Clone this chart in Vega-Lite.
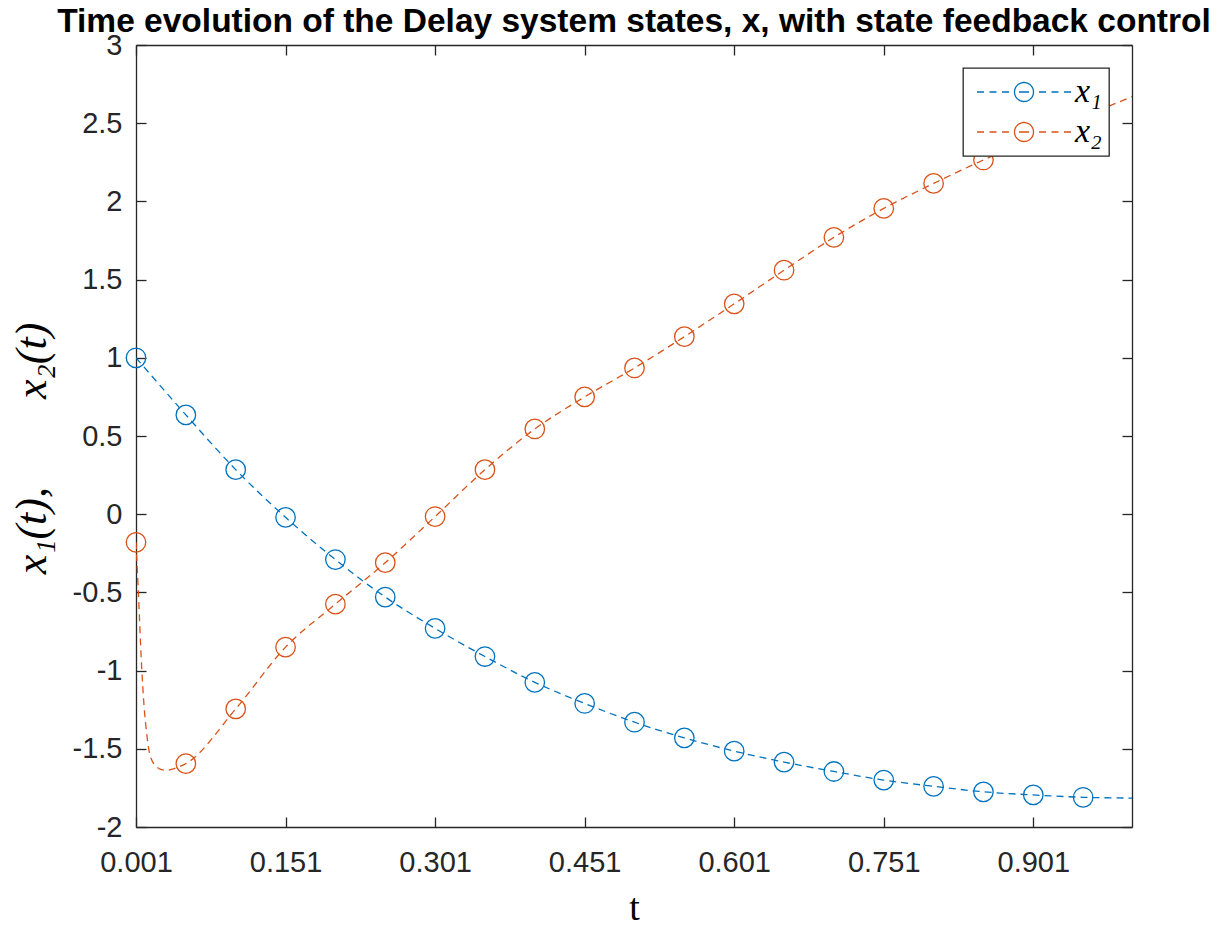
{
  "$schema": "https://vega.github.io/schema/vega-lite/v6.json",
  "autosize": "none",
  "width": 996,
  "height": 782,
  "padding": {"left": 136, "top": 45, "right": 96, "bottom": 99},
  "background": "white",
  "title": {
    "text": "Time evolution of the Delay system states, x, with state feedback control",
    "font": "Liberation Sans",
    "fontWeight": "bold",
    "fontSize": 33.5,
    "color": "#000000",
    "anchor": "middle",
    "frame": "group",
    "baseline": "bottom",
    "offset": 6,
    "dy": 47
  },
  "config": {
    "view": {"stroke": null},
    "legend": {"strokeWidth": 1.3},
    "axis": {
      "labelFont": "Liberation Sans",
      "labelFontSize": 29,
      "labelColor": "#262626",
      "domainColor": "#262626",
      "domainWidth": 1.3,
      "tickColor": "#262626",
      "tickWidth": 1.3,
      "tickSize": -10,
      "grid": false
    }
  },
  "data": {
    "values": [
      {"t": 0.001, "s": "x1", "v": 1.0},
      {"t": 0.051, "s": "x1", "v": 0.635},
      {"t": 0.101, "s": "x1", "v": 0.285},
      {"t": 0.151, "s": "x1", "v": -0.02},
      {"t": 0.201, "s": "x1", "v": -0.29},
      {"t": 0.251, "s": "x1", "v": -0.53},
      {"t": 0.301, "s": "x1", "v": -0.73},
      {"t": 0.351, "s": "x1", "v": -0.91},
      {"t": 0.401, "s": "x1", "v": -1.075},
      {"t": 0.451, "s": "x1", "v": -1.21},
      {"t": 0.501, "s": "x1", "v": -1.33},
      {"t": 0.551, "s": "x1", "v": -1.43},
      {"t": 0.601, "s": "x1", "v": -1.515},
      {"t": 0.651, "s": "x1", "v": -1.585},
      {"t": 0.701, "s": "x1", "v": -1.645},
      {"t": 0.751, "s": "x1", "v": -1.7},
      {"t": 0.801, "s": "x1", "v": -1.74},
      {"t": 0.851, "s": "x1", "v": -1.775},
      {"t": 0.901, "s": "x1", "v": -1.795},
      {"t": 0.951, "s": "x1", "v": -1.81},
      {"t": 1.0, "s": "x1", "v": -1.815},
      {"t": 0.001, "s": "x2", "v": -0.18},
      {"t": 0.0033, "s": "x2", "v": -0.49},
      {"t": 0.0067, "s": "x2", "v": -0.98},
      {"t": 0.009, "s": "x2", "v": -1.22},
      {"t": 0.0117, "s": "x2", "v": -1.4},
      {"t": 0.014, "s": "x2", "v": -1.51},
      {"t": 0.017, "s": "x2", "v": -1.575},
      {"t": 0.021, "s": "x2", "v": -1.61},
      {"t": 0.026, "s": "x2", "v": -1.632},
      {"t": 0.032, "s": "x2", "v": -1.638},
      {"t": 0.04, "s": "x2", "v": -1.625},
      {"t": 0.051, "s": "x2", "v": -1.595},
      {"t": 0.101, "s": "x2", "v": -1.245},
      {"t": 0.151, "s": "x2", "v": -0.85},
      {"t": 0.201, "s": "x2", "v": -0.575},
      {"t": 0.251, "s": "x2", "v": -0.31},
      {"t": 0.301, "s": "x2", "v": -0.015},
      {"t": 0.351, "s": "x2", "v": 0.285},
      {"t": 0.401, "s": "x2", "v": 0.545},
      {"t": 0.451, "s": "x2", "v": 0.75},
      {"t": 0.501, "s": "x2", "v": 0.935},
      {"t": 0.551, "s": "x2", "v": 1.135},
      {"t": 0.601, "s": "x2", "v": 1.345},
      {"t": 0.651, "s": "x2", "v": 1.56},
      {"t": 0.701, "s": "x2", "v": 1.77},
      {"t": 0.751, "s": "x2", "v": 1.955},
      {"t": 0.801, "s": "x2", "v": 2.115},
      {"t": 0.851, "s": "x2", "v": 2.265},
      {"t": 0.901, "s": "x2", "v": 2.405},
      {"t": 0.951, "s": "x2", "v": 2.54},
      {"t": 1.0, "s": "x2", "v": 2.67}
    ]
  },
  "resolve": {"axis": {"x": "independent", "y": "independent"}},
  "layer": [
    {
      "mark": {"type": "line", "strokeDash": [7, 5], "strokeWidth": 1.3, "interpolate": "monotone", "clip": true},
      "encoding": {
        "x": {
          "field": "t", "type": "quantitative",
          "scale": {"domain": [0.001, 1.0], "nice": false, "zero": false},
          "axis": {
            "orient": "bottom",
            "values": [0.001, 0.151, 0.301, 0.451, 0.601, 0.751, 0.901],
            "format": ".3f",
            "labelPadding": 31,
            "labelFlush": false,
            "title": "t",
            "titleFont": "Liberation Serif",
            "titleFontSize": 38,
            "titleFontWeight": "normal",
            "titleColor": "#000000",
            "titleX": 498,
            "titleY": 92,
            "titleBaseline": "alphabetic",
            "titleAlign": "center"
          }
        },
        "y": {
          "field": "v", "type": "quantitative",
          "scale": {"domain": [-2, 3], "nice": false, "zero": false},
          "axis": {
            "orient": "left",
            "values": [-2, -1.5, -1, -0.5, 0, 0.5, 1, 1.5, 2, 2.5, 3],
            "labelExpr": "toString(datum.value)",
            "labelPadding": 24,
            "labelFlush": false,
            "title": "x₁(t),\u2003\u2003x₂(t)",
            "titleFont": "Liberation Serif, DejaVu Serif",
            "titleFontStyle": "italic",
            "titleFontSize": 44,
            "titleFontWeight": "normal",
            "titleColor": "#000000",
            "titleAngle": -90,
            "titleX": -104,
            "titleY": 403,
            "titleBaseline": "middle",
            "titleAlign": "center"
          }
        },
        "color": {
          "field": "s", "type": "nominal",
          "scale": {"domain": ["x1", "x2"], "range": ["#0072BD", "#D95319"]},
          "legend": {
            "orient": "top-right",
            "offset": 23,
            "title": null,
            "symbolType": "M-4.7,0H-4M-3.45,0H-2.75M-2.2,0H-1.5M-0.5,0H0.5M1.5,0H2.2M2.75,0H3.45M4,0H4.7M0.95,0A0.95,0.95,0,1,1,-0.95,0A0.95,0.95,0,1,1,0.95,0Z",
            "symbolSize": 400,
            "symbolStrokeWidth": 1.3,
            "symbolFillColor": "transparent",
            "symbolDash": [1, 0],
            "symbolOffset": 37,
            "labelOffset": 34,
            "labelExpr": "datum.label == 'x1' ? 'x₁' : 'x₂'",
            "labelFont": "Liberation Serif, DejaVu Serif",
            "labelFontStyle": "italic",
            "labelFontSize": 34,
            "labelColor": "#000000",
            "rowPadding": 6,
            "padding": 7,
            "strokeColor": "#262626",
            "fillColor": "#ffffff"
          }
        }
      }
    },
    {
      "transform": [
        {"filter": "abs((datum.t - 0.001) / 0.05 - round((datum.t - 0.001) / 0.05)) < 0.001"}
      ],
      "mark": {"type": "point", "shape": "circle", "filled": false, "size": 380, "strokeWidth": 1.3, "opacity": 1},
      "encoding": {
        "x": {
          "field": "t", "type": "quantitative",
          "axis": {"orient": "top", "values": [0.001, 0.151, 0.301, 0.451, 0.601, 0.751, 0.901], "labels": false, "title": null}
        },
        "y": {
          "field": "v", "type": "quantitative",
          "axis": {"orient": "right", "values": [-2, -1.5, -1, -0.5, 0, 0.5, 1, 1.5, 2, 2.5, 3], "labels": false, "title": null}
        },
        "color": {"field": "s", "type": "nominal"}
      }
    }
  ]
}
